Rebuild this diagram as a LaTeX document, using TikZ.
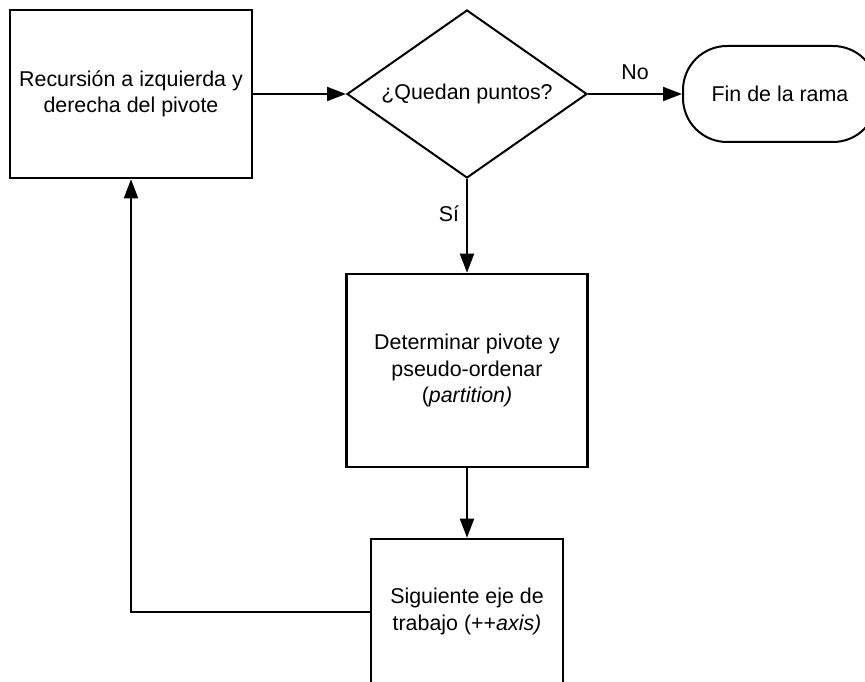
\documentclass[tikz,border=0pt]{standalone}
\usepackage{fontspec}
\setmainfont{Liberation Sans}
\usetikzlibrary{shapes.geometric,arrows.meta}
\begin{document}
\begin{tikzpicture}[x=1pt,y=-1pt,
  every node/.style={font=\fontsize{21.4}{26.5}\selectfont, inner sep=0pt},
  procbox/.style={draw, line width=2.6pt, rectangle, align=center},
  decision/.style={draw, line width=2pt, diamond, aspect=1.43},
  terminal/.style={draw, line width=2pt, rectangle, rounded corners=44pt},
  flow/.style={line width=2pt, -{Triangle[length=19pt,width=14pt]}}]
\useasboundingbox (0,0) rectangle (865,682);

\node[procbox, minimum width=242pt, minimum height=168pt] (rec) at (131,94)
  {Recursión a izquierda y\\derecha del pivote};
\node[decision, minimum width=240pt, minimum height=168pt] (dec) at (467,94)
  {¿Quedan puntos?};
\node[terminal, minimum width=194pt, minimum height=96pt] (fin) at (780,94)
  {Fin de la rama};
\node[procbox, minimum width=241pt, minimum height=193pt] (part) at (467,370.5)
  {Determinar pivote y\\pseudo-ordenar\\(\textit{partition)}};
\node[procbox, minimum width=192pt, minimum height=145pt] (axis) at (467,611.5)
  {Siguiente eje de\\trabajo (++\textit{axis)}};

\draw[flow] (rec.east) -- (dec.west);
\draw[flow] (dec.east) -- node[above=13pt] {No} (fin.west);
\draw[flow] (dec.south) -- node[pos=0.37, left=7pt] {Sí} (part.north);
\draw[flow] (part.south) -- (axis.north);
\draw[flow] (axis.west) -| (rec.south);
\end{tikzpicture}
\end{document}
